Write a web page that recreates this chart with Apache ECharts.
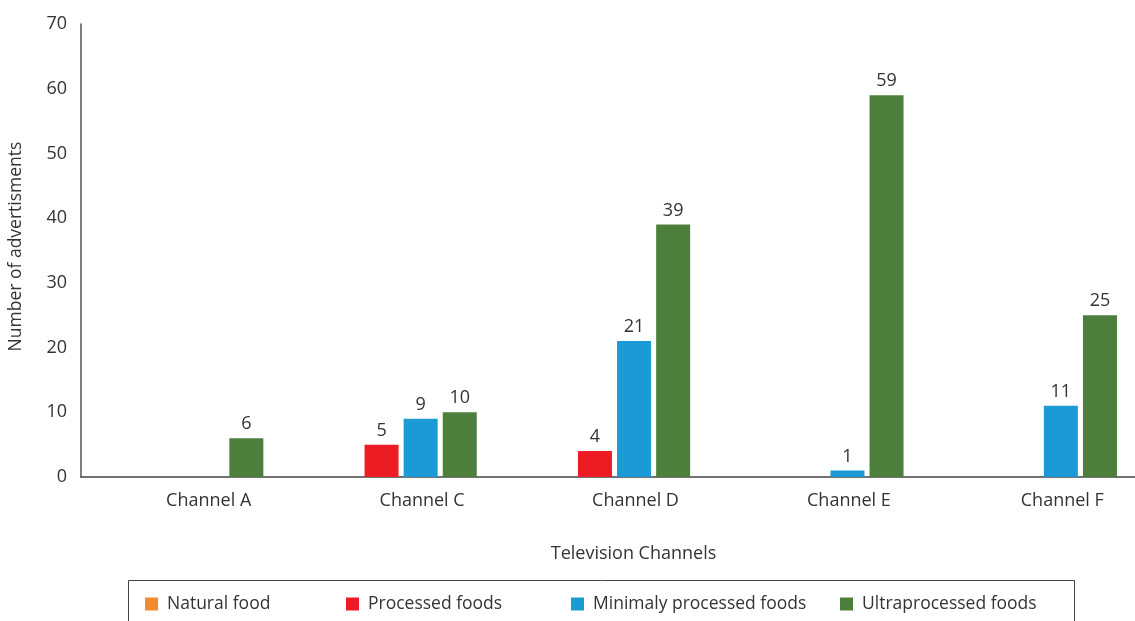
<!DOCTYPE html>
<html>
<head>
<meta charset="utf-8">
<script src="https://cdn.jsdelivr.net/npm/echarts@6/dist/echarts.min.js"></script>
<style>
    html, body { margin: 0; padding: 0; background: #fff; }
    #chartArea { width: 1135px; height: 621px; }
</style>
</head>
<body>
<div id="chartArea"></div>
<script>
// 数据
var channels = ['Channel A', 'Channel C', 'Channel D', 'Channel E', 'Channel F'];
var naturalFood = [null, null, null, null, null];
var processedFoods = [null, 5, 4, null, null];
var minimalyProcessed = [null, 9, 21, 1, 11];
var ultraProcessed = [6, 10, 39, 59, 25];
var yTicks = [0, 10, 20, 30, 40, 50, 60, 70];

var seriesNames = ['Natural food', 'Processed foods', 'Minimaly processed foods', 'Ultraprocessed foods'];
var seriesColors = ['#F28B2C', '#ED1C24', '#1C9AD6', '#4C7F3B'];
var seriesData = [naturalFood, processedFoods, minimalyProcessed, ultraProcessed];
var legendLeft = [145, 346, 571, 840];

var fontName = '"Open Sans", "Noto Sans", sans-serif';
var dom = document.getElementById('chartArea');
var myChart = echarts.init(dom);

var legends = [];
var series = [];
for (var i = 0; i < seriesNames.length; i++) {
    legends.push({
        left: legendLeft[i],
        top: 595,
        padding: 0,
        itemWidth: 13,
        itemHeight: 13,
        selectedMode: false,
        data: [{name: seriesNames[i], icon: 'rect'}],
        textStyle: {
            fontFamily: fontName,
            fontSize: 17.5,
            color: '#333',
            padding: [0, 0, 0, 4]
        }
    });
    series.push({
        name: seriesNames[i],
        type: 'bar',
        data: seriesData[i],
        barWidth: 34,
        barGap: '15%',
        itemStyle: {color: seriesColors[i]},
        label: {
            show: true,
            position: 'top',
            distance: 5,
            fontFamily: fontName,
            fontSize: 18,
            color: '#333'
        }
    });
}

var option = {
    animation: false,
    backgroundColor: '#fff',
    grid: {
        left: 81,
        right: -13,
        top: 24,
        bottom: 144,
        containLabel: false,
        outerBoundsMode: 'none'
    },
    legend: legends,
    graphic: [{
        type: 'rect',
        shape: {x: 128.5, y: 580.5, width: 946, height: 60},
        style: {fill: 'none', stroke: '#444', lineWidth: 1}
    }],
    xAxis: {
        type: 'category',
        data: channels,
        name: 'Television Channels',
        nameLocation: 'middle',
        nameGap: 68,
        nameTextStyle: {
            fontFamily: fontName,
            fontSize: 18,
            color: '#333',
            padding: [0, 0, 0, 38]
        },
        axisLine: {lineStyle: {color: '#444', width: 1.5}},
        axisTick: {show: false},
        axisLabel: {
            margin: 15,
            padding: [0, 0, 0, 42],
            fontFamily: fontName,
            fontSize: 18,
            color: '#333'
        }
    },
    yAxis: {
        type: 'value',
        min: yTicks[0],
        max: yTicks[yTicks.length - 1],
        interval: 10,
        name: 'Number of advertisments',
        nameLocation: 'middle',
        nameGap: 56,
        nameTextStyle: {
            fontFamily: fontName,
            fontSize: 17.5,
            color: '#333',
            padding: [0, 0, 0, 8]
        },
        axisLine: {show: true, lineStyle: {color: '#555', width: 1.5}},
        axisTick: {show: false},
        splitLine: {show: false},
        axisLabel: {
            margin: 14,
            fontFamily: fontName,
            fontSize: 18,
            color: '#333'
        }
    },
    series: series
};

myChart.setOption(option, true);
</script>
</body>
</html>
